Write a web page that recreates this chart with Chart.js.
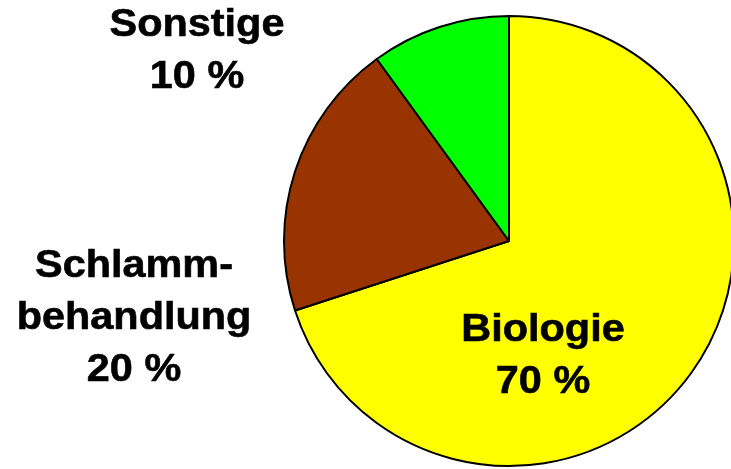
<!DOCTYPE html>
<html>
<head>
<meta charset="utf-8">
<script src="https://cdn.jsdelivr.net/npm/chart.js@4"></script>
<style>
  html, body { margin: 0; padding: 0; background: #fff; overflow: hidden; }
  #wrap { width: 750px; height: 469px; position: relative; }
</style>
</head>
<body>
<div id="wrap"><canvas id="pieChart"></canvas></div>
<script>
const labels = ['Biologie', 'Schlamm-\nbehandlung', 'Sonstige'];
const values = [70, 20, 10];
const colors = ['#ffff00', '#993300', '#00ff00'];

// where each label block sits (centre x, first baseline y)
const labelSpots = [
  { x: 543, y: 341 },
  { x: 134, y: 277 },
  { x: 197, y: 36 }
];

const textPlugin = {
  id: 'pieText',
  afterDraw(chart) {
    const ctx = chart.ctx;
    ctx.save();
    ctx.fillStyle = '#000';
    ctx.strokeStyle = '#000';
    ctx.lineWidth = 0.6;
    ctx.font = 'bold 38px "Liberation Sans", Arial, sans-serif';
    ctx.textAlign = 'center';
    ctx.textBaseline = 'alphabetic';
    labels.forEach(function (lbl, i) {
      const lines = lbl.split('\n').concat([values[i] + ' %']);
      const spot = labelSpots[i];
      lines.forEach(function (line, j) {
        ctx.save();
        ctx.translate(spot.x, spot.y + j * 52);
        ctx.scale(1.09, 1);
        ctx.fillText(line, 0, 0);
        ctx.strokeText(line, 0, 0);
        ctx.restore();
      });
    });
    ctx.restore();
  }
};

const ctx = document.getElementById('pieChart').getContext('2d');
new Chart(ctx, {
  type: 'pie',
  data: {
    labels: labels,
    datasets: [{
      data: values,
      backgroundColor: colors,
      borderColor: '#000',
      borderWidth: 2
    }]
  },
  options: {
    responsive: true,
    maintainAspectRatio: false,
    animation: false,
    layout: { padding: { left: 283, right: 15, top: 14, bottom: 1 } },
    plugins: {
      legend: { display: false },
      tooltip: { enabled: false }
    }
  },
  plugins: [textPlugin]
});
</script>
</body>
</html>
